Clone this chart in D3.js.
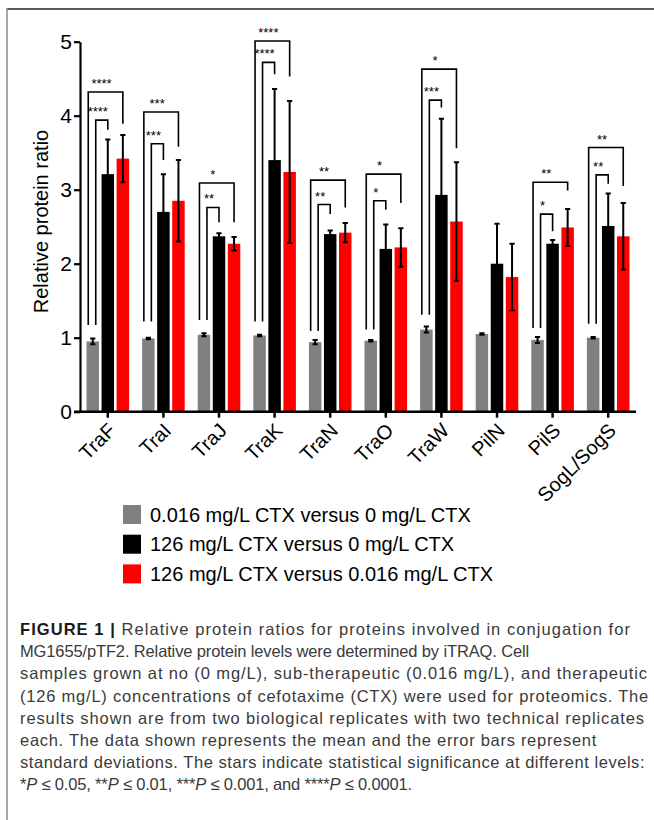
<!DOCTYPE html>
<html>
<head>
<meta charset="utf-8">
<script src="https://cdn.jsdelivr.net/npm/d3@7"></script>
<style>
  html, body { margin: 0; padding: 0; background: #fff; }
  svg { display: block; font-family: "Liberation Sans", Arial, Helvetica, sans-serif; }
</style>
</head>
<body>
<svg id="chart" width="654" height="820"></svg>
<script>
// ---------------- data ----------------
const categories = ["TraF", "TraI", "TraJ", "TraK", "TraN", "TraO", "TraW", "PilN", "PilS", "SogL/SogS"];
const seriesNames = [
  "0.016 mg/L CTX versus 0 mg/L CTX",
  "126 mg/L CTX versus 0 mg/L CTX",
  "126 mg/L CTX versus 0.016 mg/L CTX"
];
const seriesColors = ["#808080", "#000000", "#ff0000"];

const lowVs0      = [0.95, 0.99, 1.04, 1.03, 0.94, 0.96, 1.11, 1.05, 0.97, 1.00];
const lowVs0Err   = [0.04, 0.01, 0.02, 0.01, 0.03, 0.01, 0.04, 0.01, 0.04, 0.01];
const highVs0     = [3.21, 2.70, 2.37, 3.40, 2.40, 2.20, 2.93, 2.00, 2.27, 2.51];
const highVs0Err  = [0.47, 0.51, 0.04, 0.96, 0.05, 0.33, 1.03, 0.54, 0.05, 0.44];
const highVsLow   = [3.42, 2.85, 2.27, 3.24, 2.42, 2.22, 2.57, 1.82, 2.49, 2.37];
const highVsLowErr= [0.32, 0.55, 0.09, 0.96, 0.13, 0.26, 0.80, 0.45, 0.25, 0.45];

const yTicks = [0, 1, 2, 3, 4, 5];

// significance brackets (inner: grey vs black, outer: grey vs red)
const innerStars    = ["****", "***", "**", "****", "**", "*", "***", "", "*", "**"];
const outerStars    = ["****", "***", "*", "****", "**", "*", "*", "", "**", "**"];
const innerTop      = [3.94, 3.62, 2.76, 4.72, 2.80, 2.85, 4.21, null, 2.67, 3.20];
const innerRightEnd = [3.81, 3.40, 2.56, 4.56, 2.67, 2.73, 4.11, null, 2.44, 3.08];
const outerTop      = [4.32, 4.05, 3.09, 5.01, 3.13, 3.21, 4.63, null, 3.10, 3.57];
const outerRightEnd = [3.89, 3.58, 2.56, 4.53, 2.76, 2.82, 3.56, null, 2.99, 3.05];
const leftEnd       = [1.17, 1.22, 1.24, 1.22, 1.09, 1.11, 1.31, null, 1.13, 1.19];

const captionLines = [
  [{t: "FIGURE 1 | ", b: true}, {t: "Relative protein ratios for proteins involved in conjugation for"}],
  [{t: "MG1655/pTF2. Relative protein levels were determined by iTRAQ. Cell"}],
  [{t: "samples grown at no (0 mg/L), sub-therapeutic (0.016 mg/L), and therapeutic"}],
  [{t: "(126 mg/L) concentrations of cefotaxime (CTX) were used for proteomics. The"}],
  [{t: "results shown are from two biological replicates with two technical replicates"}],
  [{t: "each. The data shown represents the mean and the error bars represent"}],
  [{t: "standard deviations. The stars indicate statistical significance at different levels:"}],
  [{t: "*"}, {t: "P", i: true}, {t: " ≤ 0.05, **"}, {t: "P", i: true}, {t: " ≤ 0.01, ***"}, {t: "P", i: true},
   {t: " ≤ 0.001, and ****"}, {t: "P", i: true}, {t: " ≤ 0.0001."}]
];
// measured line widths in the reference (px)
const captionWidths = [611, 509, 628, 629, 625, 577, 625, 392];

// ---------------- layout ----------------
const svg = d3.select("#chart");

// frame
svg.append("line").attr("x1", 7).attr("x2", 654).attr("y1", 9).attr("y2", 9)
  .attr("stroke", "#5a5a5a").attr("stroke-width", 2);
svg.append("line").attr("x1", 7).attr("x2", 7).attr("y1", 8).attr("y2", 820)
  .attr("stroke", "#8a8a8a").attr("stroke-width", 1.5);

const y = d3.scaleLinear().domain([0, 5]).range([411.7, 41.7]);
const x0 = d3.scaleBand().domain(categories).range([80, 636]).paddingInner(0.234).paddingOuter(0.117);
const x1 = d3.scaleBand().domain([0, 1, 2]).range([0, x0.bandwidth()]).paddingInner(0.17);

const values = [lowVs0, highVs0, highVsLow];
const errors = [lowVs0Err, highVs0Err, highVsLowErr];

const barData = [];
categories.forEach((c, i) => {
  [0, 1, 2].forEach(s => barData.push({c, i, s, v: values[s][i], e: errors[s][i]}));
});

const cx = d => x0(d.c) + x1(d.s) + x1.bandwidth() / 2;

svg.append("g").selectAll("rect").data(barData).join("rect")
  .attr("x", d => x0(d.c) + x1(d.s))
  .attr("y", d => y(d.v))
  .attr("width", x1.bandwidth())
  .attr("height", d => y(0) - y(d.v))
  .attr("fill", d => seriesColors[d.s]);

// error bars
const eg = svg.append("g").attr("stroke", "#000").attr("stroke-width", 2).attr("fill", "none");
eg.selectAll("path").data(barData).join("path")
  .attr("d", d => {
    const x = cx(d), t = y(d.v + d.e), b = y(d.v - d.e);
    return `M${x},${b}V${t}M${x - 2.6},${t}H${x + 2.6}M${x - 2.6},${b}H${x + 2.6}`;
  });

// axes
const yAxis = d3.axisLeft(y).tickValues(yTicks).tickFormat(d3.format("d")).tickSize(6).tickSizeOuter(0).tickPadding(2);
const gy = svg.append("g").attr("transform", "translate(80,0)").call(yAxis);
gy.selectAll("text").attr("font-size", 21).attr("fill", "#000").attr("font-family", "Liberation Sans, Arial, sans-serif");
gy.selectAll("line, path").attr("stroke", "#000").attr("stroke-width", 2.2);

const xAxis = d3.axisBottom(x0).tickSize(6).tickSizeOuter(0);
const gx = svg.append("g").attr("transform", `translate(0,${y(0)})`).call(xAxis);
gx.select(".domain").attr("d", `M74,0H636`);
gx.selectAll("line, path").attr("stroke", "#000").attr("stroke-width", 2.5);
gx.selectAll("text")
  .attr("font-size", 20).attr("fill", "#000").attr("font-family", "Liberation Sans, Arial, sans-serif")
  .attr("x", 0).attr("y", 0).attr("dy", null)
  .attr("text-anchor", "end")
  .attr("transform", "translate(9,20) rotate(-45)");

// y title
svg.append("text")
  .attr("transform", "translate(48,221.5) rotate(-90)")
  .attr("text-anchor", "middle")
  .attr("font-size", 20)
  .text("Relative protein ratio");

// significance brackets
const bg = svg.append("g").attr("stroke", "#000").attr("stroke-width", 1.6).attr("fill", "none");
const sg = svg.append("g").attr("font-size", 13).attr("text-anchor", "middle").attr("fill", "#000");
categories.forEach((c, i) => {
  if (outerTop[i] == null) return;
  const gC = x0(c) + x1(0) + x1.bandwidth() / 2;
  const bC = x0(c) + x1(1) + x1.bandwidth() / 2;
  const rC = x0(c) + x1(2) + x1.bandwidth() / 2;
  const oL = gC - 4.5, iL = gC + 3;
  bg.append("path").attr("d", `M${oL},${y(leftEnd[i])}V${y(outerTop[i])}H${rC}V${y(outerRightEnd[i])}`);
  bg.append("path").attr("d", `M${iL},${y(leftEnd[i])}V${y(innerTop[i])}H${bC}V${y(innerRightEnd[i])}`);
  sg.append("text").attr("x", (oL + rC) / 2 - 4).attr("y", y(outerTop[i]) - 4).text(outerStars[i]);
  sg.append("text").attr("x", (iL + bC) / 2 - 4).attr("y", y(innerTop[i]) - 4).text(innerStars[i]);
});

// legend
const lg = svg.append("g");
seriesNames.forEach((n, k) => {
  const top = 505 + k * 29.7;
  lg.append("rect").attr("x", 123).attr("y", top).attr("width", 18).attr("height", 19)
    .attr("fill", seriesColors[k]);
  lg.append("text").attr("x", 150).attr("y", top + 16.7).attr("font-size", 20).attr("fill", "#000").text(n);
});

// caption (letter-spacing tuned so each line spans the reference width)
const cg = svg.append("g").attr("font-size", 16.5).attr("fill", "#3a3a3a");
captionLines.forEach((parts, k) => {
  const t = cg.append("text").attr("x", 20).attr("y", 635 + k * 22.2);
  parts.forEach(p => {
    const ts = t.append("tspan").text(p.t);
    if (p.b) ts.attr("font-weight", "bold").attr("fill", "#1a1a1a");
    if (p.i) ts.attr("font-style", "italic");
  });
  const natural = t.node().getComputedTextLength();
  const n = parts.reduce((a, p) => a + p.t.length, 0);
  t.attr("letter-spacing", ((captionWidths[k] - natural) / n).toFixed(3));
});
</script>
</body>
</html>
